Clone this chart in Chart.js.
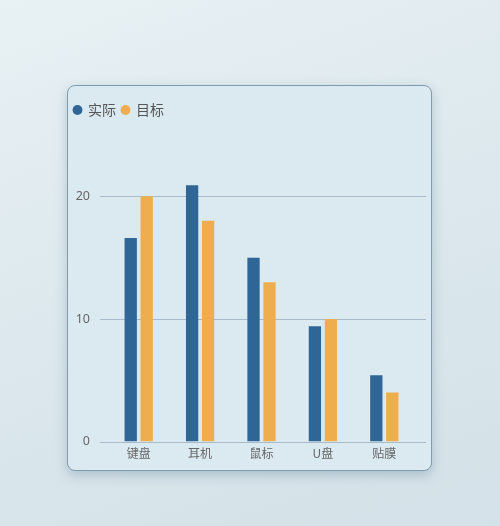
<!DOCTYPE html>
<html>
<head>
<meta charset="utf-8">
<script src="https://cdn.jsdelivr.net/npm/chart.js@4"></script>
<style>
  html, body { margin: 0; padding: 0; }
  body {
    width: 500px; height: 526px; overflow: hidden;
    background: linear-gradient(160deg, #e8f1f4 0%, #dbe7ec 55%, #d3e1e8 100%);
    position: relative;
  }
  .card {
    position: absolute; left: 67px; top: 85px;
    width: 363px; height: 384px;
    border: 1px solid #7f9bb0; border-radius: 8px;
    background: #dbe9f1;
    box-shadow: 0 4px 12px rgba(90, 120, 140, 0.35);
  }
  .card canvas { position: absolute; left: 0; top: 0; }
</style>
</head>
<body>
<div class="card"><canvas id="myChart"></canvas></div>
<script>
var categories = ["键盘", "耳机", "鼠标", "U盘", "贴膜"];
var actual = [16.6, 20.9, 15, 9.4, 5.4];
var target = [20, 18, 13, 10, 4];
var yTicks = [0, 10, 20];

// grid lines in the reference run past the plot area on both sides
var gridPlugin = {
   id: 'wideGrid',
   beforeDatasetsDraw: function (chart) {
      var c = chart.ctx, a = chart.chartArea, y = chart.scales.y;
      c.save();
      c.strokeStyle = '#a7bbca';
      c.lineWidth = 1;
      yTicks.forEach(function (v) {
         var py = Math.round(y.getPixelForValue(v)) + 0.5;
         c.beginPath();
         c.moveTo(a.left - 8, py);
         c.lineTo(a.right + 11, py);
         c.stroke();
      });
      c.restore();
   }
};

// a bit more room under the legend
var legendGap = {
   id: 'legendGap',
   beforeInit: function (chart) {
      var fit = chart.legend.fit;
      chart.legend.fit = function () {
         fit.bind(chart.legend)();
         this.height += 8;
      };
   }
};

var ctx = document.getElementById("myChart").getContext('2d');
var myChart = new Chart(ctx, {
   type: 'bar',
   data: {
      labels: categories,
      datasets: [{
         label: '实际',
         data: actual,
         backgroundColor: "#2f6696"
      }, {
         label: '目标',
         data: target,
         backgroundColor: "#efae4e"
      }]
   },
   options: {
      responsive: true,
      maintainAspectRatio: false,
      animation: false,
      devicePixelRatio: 1,
      categoryPercentage: 0.52,
      barPercentage: 0.77,
      layout: { padding: { left: 0, right: 16, top: 11, bottom: 4 } },
      plugins: {
         tooltip: { enabled: false },
         legend: {
            position: 'top',
            align: 'start',
            labels: {
               usePointStyle: true,
               pointStyle: 'circle',
               boxWidth: 7,
               boxHeight: 7,
               padding: 6,
               color: '#555',
               font: { family: '"Noto Sans CJK SC", "Noto Sans", sans-serif', size: 14 }
            }
         }
      },
      scales: {
         x: {
            grid: { display: false, drawTicks: false },
            border: { display: false },
            ticks: {
               color: '#666',
               padding: 5,
               font: { family: '"Noto Sans CJK SC", "Noto Sans", sans-serif', size: 12 }
            }
         },
         y: {
            min: 0,
            max: 25,
            afterBuildTicks: function (scale) {
               scale.ticks = yTicks.map(function (v) { return { value: v }; });
            },
            afterFit: function (scale) {
               scale.width = 40;
            },
            grid: { display: false, drawTicks: false },
            border: { display: false },
            ticks: {
               color: '#666',
               padding: 18,
               font: { family: '"Noto Sans", sans-serif', size: 12.5 }
            }
         }
      }
   },
   plugins: [gridPlugin, legendGap]
});
</script>
</body>
</html>
